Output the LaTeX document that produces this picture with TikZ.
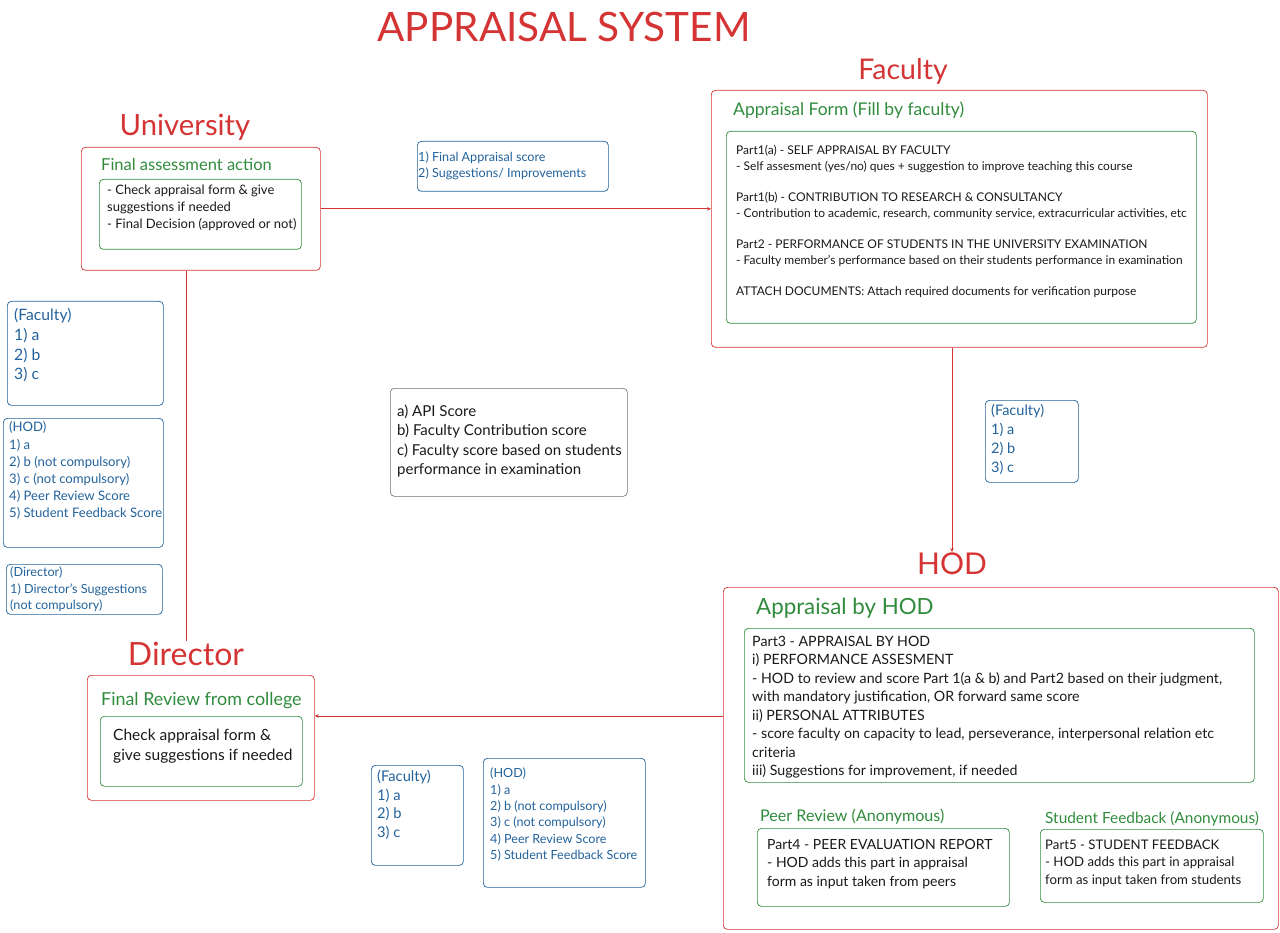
\documentclass[tikz,border=0pt]{standalone}
\usepackage{fontspec}
\setmainfont{Lato}
\usetikzlibrary{arrows.meta}
\definecolor{apred}{RGB}{212,52,52}
\definecolor{apgreen}{RGB}{48,140,60}
\definecolor{apblue}{RGB}{34,98,156}
\definecolor{aptext}{RGB}{25,25,25}
\definecolor{apgray}{RGB}{110,110,110}
\newcommand{\fsz}[2]{\fontsize{#1}{#2}\selectfont}

\begin{document}
\begin{tikzpicture}[x=1pt,y=-1pt,>={Stealth[length=4pt,width=3.5pt]},
    redbox/.style={draw=apred,line width=.7pt,rounded corners=4pt,anchor=north west,inner sep=0pt},
    greenbox/.style={draw=apgreen,line width=.7pt,rounded corners=4pt,anchor=north west,inner sep=0pt},
    bluebox/.style={draw=apblue,line width=.7pt,rounded corners=4pt,anchor=north west,inner sep=0pt},
    graybox/.style={draw=apgray,line width=.6pt,rounded corners=4pt,anchor=north west,inner sep=0pt},
    head/.style={text=apred,anchor=base,inner sep=0pt,font=\fsz{30}{32}},
    sub/.style={text=apgreen,anchor=west,inner sep=0pt},
    body/.style={text=aptext,anchor=north west,inner sep=0pt,align=left},
    list/.style={text=apblue,anchor=north west,inner sep=0pt,align=left},
    link/.style={draw=apred,line width=.7pt}]
    \useasboundingbox (0,0) rectangle (1280,933);

    % headings
    \node[head,font=\fsz{40.5}{42}] (title) at (564,42) {APPRAISAL SYSTEM};
    \node[head,font=\fsz{28.5}{30}] (faclbl) at (903,80) {Faculty};
    \node[head,font=\fsz{29.3}{30}] (unilbl) at (185,136) {University};
    \node[head] (hodlbl) at (952,574) {HOD};
    \node[head,font=\fsz{32}{34}] (dirlbl) at (186,665) {Director};

    % University
    \node[redbox,minimum width=239,minimum height=123] (uni) at (81,147) {};
    \node[sub,font=\fsz{16.5}{18}] (unisub) at (101,164) {Final assessment action};
    \node[greenbox,minimum width=202,minimum height=70] (uniin) at (99,179) {};
    \node[body,font=\fsz{13}{17}] (unitxt) at (107,184.6) {- Check appraisal form \& give\\suggestions if needed\\- Final Decision (approved or not)};

    % Faculty
    \node[redbox,minimum width=496,minimum height=257] (fac) at (711,90) {};
    \node[sub,font=\fsz{17.5}{19}] (facsub) at (733,110) {Appraisal Form (Fill by faculty)};
    \node[greenbox,minimum width=470,minimum height=192] (facin) at (726,131) {};
    \node[body,font=\fsz{12}{16}] (factxt) at (736,145) {Part1(a) - SELF APPRAISAL BY FACULTY\\
        - Self assesment (yes/no) ques + suggestion to improve teaching this course\\[15pt]
        Part1(b) - CONTRIBUTION TO RESEARCH \& CONSULTANCY\\
        - Contribution to academic, research, community service, extracurricular activities, etc\\[15pt]
        Part2 - PERFORMANCE OF STUDENTS IN THE UNIVERSITY EXAMINATION\\
        - Faculty member's performance based on their students performance in examination\\[15pt]
        ATTACH DOCUMENTS: Attach required documents for verification purpose};

    % HOD
    \node[redbox,minimum width=555,minimum height=342] (hod) at (723,587) {};
    \node[sub,font=\fsz{22.3}{24}] (hodsub) at (756,608) {Appraisal by HOD};
    \node[greenbox,minimum width=510,minimum height=154] (hodin) at (744,628) {};
    \node[body,font=\fsz{14.2}{18.5}] (hodtxt) at (752,636) {Part3 - APPRAISAL BY HOD\\
        i) PERFORMANCE ASSESMENT\\
        - HOD to review and score Part 1(a \& b) and Part2 based on their judgment,\\
        with mandatory justification, OR forward same score\\
        ii) PERSONAL ATTRIBUTES\\
        - score faculty on capacity to lead, perseverance, interpersonal relation etc\\
        criteria\\
        iii) Suggestions for improvement, if needed};
    \node[sub,font=\fsz{16.1}{18}] (peersub) at (760,817) {Peer Review (Anonymous)};
    \node[greenbox,minimum width=252,minimum height=78] (peer) at (757,828) {};
    \node[body,font=\fsz{14}{18.5}] (peertxt) at (767,839) {Part4 - PEER EVALUATION REPORT\\- HOD adds this part in appraisal\\form as input taken from peers};
    \node[sub,font=\fsz{15.4}{17}] (studsub) at (1045,819) {Student Feedback (Anonymous)};
    \node[greenbox,minimum width=223,minimum height=73] (stud) at (1040,829) {};
    \node[body,font=\fsz{13.2}{17.5}] (studtxt) at (1045,839.5) {Part5 - STUDENT FEEDBACK\\- HOD adds this part in appraisal\\form as input taken from students};

    % Director
    \node[redbox,minimum width=227,minimum height=125] (dir) at (87,675) {};
    \node[sub,font=\fsz{17.9}{19}] (dirsub) at (101,701) {Final Review from college};
    \node[greenbox,minimum width=202,minimum height=70] (dirin) at (100,716) {};
    \node[body,font=\fsz{15.5}{20}] (dirtxt) at (113,728.4) {Check appraisal form \&\\give suggestions if needed};

    % scores passed on
    \node[bluebox,minimum width=191,minimum height=50] (sumbox) at (417,141) {};
    \node[list,font=\fsz{12.6}{16}] (sumtxt) at (418,151.8) {1) Final Appraisal score\\2) Suggestions/ Improvements};
    \node[graybox,minimum width=237,minimum height=108] (scores) at (390,388) {};
    \node[body,font=\fsz{15}{19.5}] (scoretxt) at (397,404.6) {a) API Score\\b) Faculty Contribution score\\c) Faculty score based on students\\performance in examination};
    \node[bluebox,minimum width=156,minimum height=104] (lfac) at (7,301) {};
    \node[list,font=\fsz{15.7}{19.7}] (lfactxt) at (14,308.3) {(Faculty)\\1) a\\2) b\\3) c};
    \node[bluebox,minimum width=160,minimum height=129] (lhod) at (3,418) {};
    \node[list,font=\fsz{13.1}{17.2}] (lhodtxt) at (9,421.6) {(HOD)\\1) a\\2) b (not compulsory)\\3) c (not compulsory)\\4) Peer Review Score\\5) Student Feedback Score};
    \node[bluebox,minimum width=156,minimum height=50] (ldir) at (6,564) {};
    \node[list,font=\fsz{12.6}{16.5}] (ldirtxt) at (10,566.9) {(Director)\\1) Director's Suggestions\\(not compulsory)};
    \node[bluebox,minimum width=93,minimum height=82] (rfac) at (985,400) {};
    \node[list,font=\fsz{14.5}{19}] (rfactxt) at (991,403.9) {(Faculty)\\1) a\\2) b\\3) c};
    \node[bluebox,minimum width=92,minimum height=100] (bfac) at (371,765) {};
    \node[list,font=\fsz{14.7}{18.7}] (bfactxt) at (377,769.8) {(Faculty)\\1) a\\2) b\\3) c};
    \node[bluebox,minimum width=162,minimum height=129] (bhod) at (483,758) {};
    \node[list,font=\fsz{12.6}{16.4}] (bhodtxt) at (490,767.8) {(HOD)\\1) a\\2) b (not compulsory)\\3) c (not compulsory)\\4) Peer Review Score\\5) Student Feedback Score};

    % flow
    \draw[link,->] (uni.east) -- (uni.east -| fac.west);
    \draw[link,->] (hodlbl.north |- fac.south) -- (hodlbl.north);
    \draw[link,->] (hod.west |- dirin.north) -- (dir.east |- dirin.north);
    \draw[link] (dirlbl.north |- uni.south) -- (dirlbl.north);
\end{tikzpicture}
\end{document}
